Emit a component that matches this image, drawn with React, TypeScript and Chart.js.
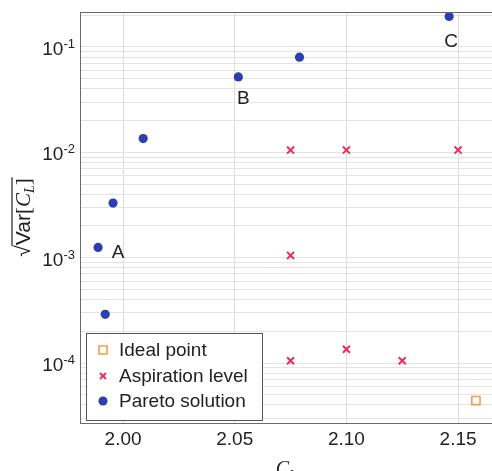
import React, { useEffect, useRef } from "react";
import { Chart, registerables } from "chart.js";

Chart.register(...registerables);

// ---- data ----
const paretoX = [1.9888, 1.992, 1.9955, 2.009, 2.0516, 2.079, 2.146];
const paretoY = [1.25e-3, 2.9e-4, 3.3e-3, 0.0135, 0.052, 0.08, 0.195];
const aspirationX = [2.075, 2.1, 2.15, 2.075, 2.075, 2.1, 2.125];
const aspirationY = [0.0105, 0.0105, 0.0105, 1.05e-3, 1.05e-4, 1.35e-4, 1.05e-4];
const idealX = [2.158];
const idealY = [4.4e-5];
const xTicks = [2.0, 2.05, 2.1, 2.15];
const yMajorExponents = [-1, -2, -3, -4];
const pointLabels = ["A", "B", "C"];
const labelledParetoIndex = [0, 4, 6];
const seriesNames = ["Ideal point", "Aspiration level", "Pareto solution"];

const SANS = "'Liberation Sans', Arial, sans-serif";
const SERIF = "'Liberation Serif', 'DejaVu Serif', serif";

function drawMarker(ctx: CanvasRenderingContext2D, style: string, x: number, y: number, r: number) {
  ctx.beginPath();
  if (style === "circle") {
    ctx.arc(x, y, r, 0, Math.PI * 2);
    ctx.fill();
  } else if (style === "rect") {
    ctx.rect(x - r, y - r, 2 * r, 2 * r);
    ctx.stroke();
  } else {
    ctx.moveTo(x - r, y - r);
    ctx.lineTo(x + r, y + r);
    ctx.moveTo(x + r, y - r);
    ctx.lineTo(x - r, y + r);
    ctx.stroke();
  }
}

const overlayPlugin = {
  id: "overlay",
  afterDraw(chart: any) {
    const ctx = chart.ctx;
    const ca = chart.chartArea;
    const xs = chart.scales.x;
    const ys = chart.scales.y;
    ctx.save();

    // top border
    ctx.strokeStyle = "#6a6a6a";
    ctx.lineWidth = 1;
    ctx.beginPath();
    ctx.moveTo(ca.left, ca.top + 0.5);
    ctx.lineTo(ca.right, ca.top + 0.5);
    ctx.stroke();

    // y tick labels with superscripts
    ctx.fillStyle = "#222";
    ctx.textBaseline = "alphabetic";
    for (const e of yMajorExponents) {
      const y = ys.getPixelForValue(Math.pow(10, e));
      const sup = String(e);
      ctx.font = `13px ${SANS}`;
      const sw = ctx.measureText(sup).width;
      ctx.font = `19px ${SANS}`;
      const bw = ctx.measureText("10").width;
      const right = ca.left - 5;
      ctx.textAlign = "left";
      ctx.fillText("10", right - sw - bw, y + 8);
      ctx.font = `13px ${SANS}`;
      ctx.fillText(sup, right - sw, y + 1);
    }

    // point labels A, B, C
    ctx.font = `19px ${SANS}`;
    ctx.textAlign = "center";
    ctx.textBaseline = "middle";
    ctx.fillStyle = "#222";
    const offsets = [
      [20, 5],
      [5, 22],
      [2, 25],
    ];
    labelledParetoIndex.forEach((idx, i) => {
      const px = xs.getPixelForValue(paretoX[idx]);
      const py = ys.getPixelForValue(paretoY[idx]);
      ctx.fillText(pointLabels[i], px + offsets[i][0], py + offsets[i][1]);
    });

    // x title C_L
    const cx = (ca.left + ca.right) / 2;
    ctx.textBaseline = "alphabetic";
    ctx.textAlign = "left";
    ctx.font = `italic 20px ${SERIF}`;
    const cw = ctx.measureText("C").width;
    ctx.font = `italic 13px ${SERIF}`;
    const lw = ctx.measureText("L").width;
    const tx = cx - (cw + lw) / 2;
    ctx.font = `italic 20px ${SERIF}`;
    ctx.fillText("C", tx, 475);
    ctx.font = `italic 13px ${SERIF}`;
    ctx.fillText("L", tx + cw, 478);

    // y title sqrt(Var[C_L])
    const cy = (ca.top + ca.bottom) / 2;
    ctx.save();
    ctx.translate(22, cy);
    ctx.rotate(-Math.PI / 2);
    const parts: [string, string, number][] = [
      ["\u221A", `21px ${SANS}`, 0],
      ["Var", `21px ${SANS}`, 0],
      ["[", `21px ${SERIF}`, 0],
      ["C", `italic 21px ${SERIF}`, 0],
      ["L", `italic 14px ${SERIF}`, 4],
      ["]", `21px ${SERIF}`, 0],
    ];
    let total = 0;
    const widths: number[] = [];
    for (const p of parts) {
      ctx.font = p[1];
      const w = ctx.measureText(p[0]).width;
      widths.push(w);
      total += w;
    }
    let x0 = -total / 2;
    const base = 8;
    const sqrtEnd = x0 + widths[0];
    parts.forEach((p, i) => {
      ctx.font = p[1];
      ctx.fillText(p[0], x0, base + p[2]);
      x0 += widths[i];
    });
    ctx.strokeStyle = "#222";
    ctx.lineWidth = 1.2;
    ctx.beginPath();
    ctx.moveTo(sqrtEnd - 1, base - 18);
    ctx.lineTo(x0 + 1, base - 18);
    ctx.stroke();
    ctx.restore();

    // legend
    const lx = ca.left + 6;
    const lw2 = 176;
    const lh = 87;
    const ly = ca.bottom - 3 - lh;
    ctx.fillStyle = "#fff";
    ctx.fillRect(lx, ly, lw2, lh);
    ctx.strokeStyle = "#555";
    ctx.lineWidth = 1;
    ctx.strokeRect(lx + 0.5, ly + 0.5, lw2, lh);
    const rows = [17, 43, 68];
    chart.data.datasets.forEach((ds: any, i: number) => {
      const my = ly + rows[i];
      const mx = lx + 17;
      ctx.save();
      ctx.strokeStyle = ds.borderColor;
      ctx.fillStyle = ds.backgroundColor;
      ctx.lineWidth = ds.borderWidth;
      drawMarker(ctx, ds.pointStyle, mx, my, ds.legendRadius);
      ctx.restore();
      ctx.fillStyle = "#222";
      ctx.font = `19px ${SANS}`;
      ctx.textAlign = "left";
      ctx.textBaseline = "middle";
      ctx.fillText(ds.label, lx + 33, my + 1);
    });

    ctx.restore();
  },
};

export default function App() {
  const ref = useRef<HTMLCanvasElement | null>(null);

  useEffect(() => {
    document.body.style.margin = "0";
    const canvas = ref.current!;
    const toPts = (xs: number[], ys: number[]) => xs.map((x, i) => ({ x, y: ys[i] }));
    const yTickVals: number[] = [];
    for (let k = -5; k <= -1; k++) {
      for (let m = 1; m <= 9; m++) yTickVals.push(m * Math.pow(10, k));
    }
    const yMin = 2.694e-5;
    const yMax = 0.2149;
    const chart = new Chart(canvas, {
      type: "scatter",
      data: {
        datasets: [
          {
            label: seriesNames[0],
            data: toPts(idealX, idealY),
            pointStyle: "rect",
            pointRadius: 5.8,
            borderColor: "#f0a04a",
            backgroundColor: "rgba(255,255,255,0)",
            borderWidth: 1.6,
            legendRadius: 4,
          } as any,
          {
            label: seriesNames[1],
            data: toPts(aspirationX, aspirationY),
            pointStyle: "crossRot",
            pointRadius: 5,
            borderColor: "#e8305a",
            backgroundColor: "#e8305a",
            borderWidth: 2,
            legendRadius: 3,
          } as any,
          {
            label: seriesNames[2],
            data: toPts(paretoX, paretoY),
            pointStyle: "circle",
            pointRadius: 4.6,
            borderColor: "#2b3fb0",
            backgroundColor: "#2b3fb0",
            borderWidth: 0,
            legendRadius: 4.6,
          } as any,
        ],
      },
      options: {
        animation: false,
        responsive: true,
        maintainAspectRatio: false,
        layout: { autoPadding: false, padding: { top: 12, left: 0, right: 0, bottom: 0 } },
        plugins: { legend: { display: false }, tooltip: { enabled: false } },
        scales: {
          x: {
            type: "linear",
            min: 1.9807,
            max: 2.1652,
            afterBuildTicks: (s: any) => {
              s.ticks = xTicks.map((v) => ({ value: v }));
            },
            afterFit: (s: any) => {
              s.height = 48;
              s.paddingLeft = 0;
              s.paddingRight = 0;
            },
            ticks: {
              callback: (v: any) => Number(v).toFixed(2),
              font: { family: SANS, size: 19 },
              color: "#222",
              padding: 5,
              maxRotation: 0,
            },
            grid: { color: "#dcdcdc", drawTicks: false, lineWidth: 1 },
            border: { color: "#6a6a6a", width: 1 },
          },
          y: {
            type: "logarithmic",
            min: yMin,
            max: yMax,
            afterBuildTicks: (s: any) => {
              s.ticks = yTickVals.filter((v) => v >= yMin && v <= yMax).map((v) => ({ value: v }));
            },
            afterFit: (s: any) => {
              s.width = 80;
              s.paddingTop = 0;
              s.paddingBottom = 0;
            },
            ticks: { display: false },
            grid: { color: "#e4e4e4", drawTicks: false, lineWidth: 1 },
            border: { color: "#6a6a6a", width: 1 },
          },
        },
      },
      plugins: [overlayPlugin],
    });
    return () => chart.destroy();
  }, []);

  return (
    <div style={{ width: 492, height: 471, position: "relative" }}>
      <canvas ref={ref} />
    </div>
  );
}
